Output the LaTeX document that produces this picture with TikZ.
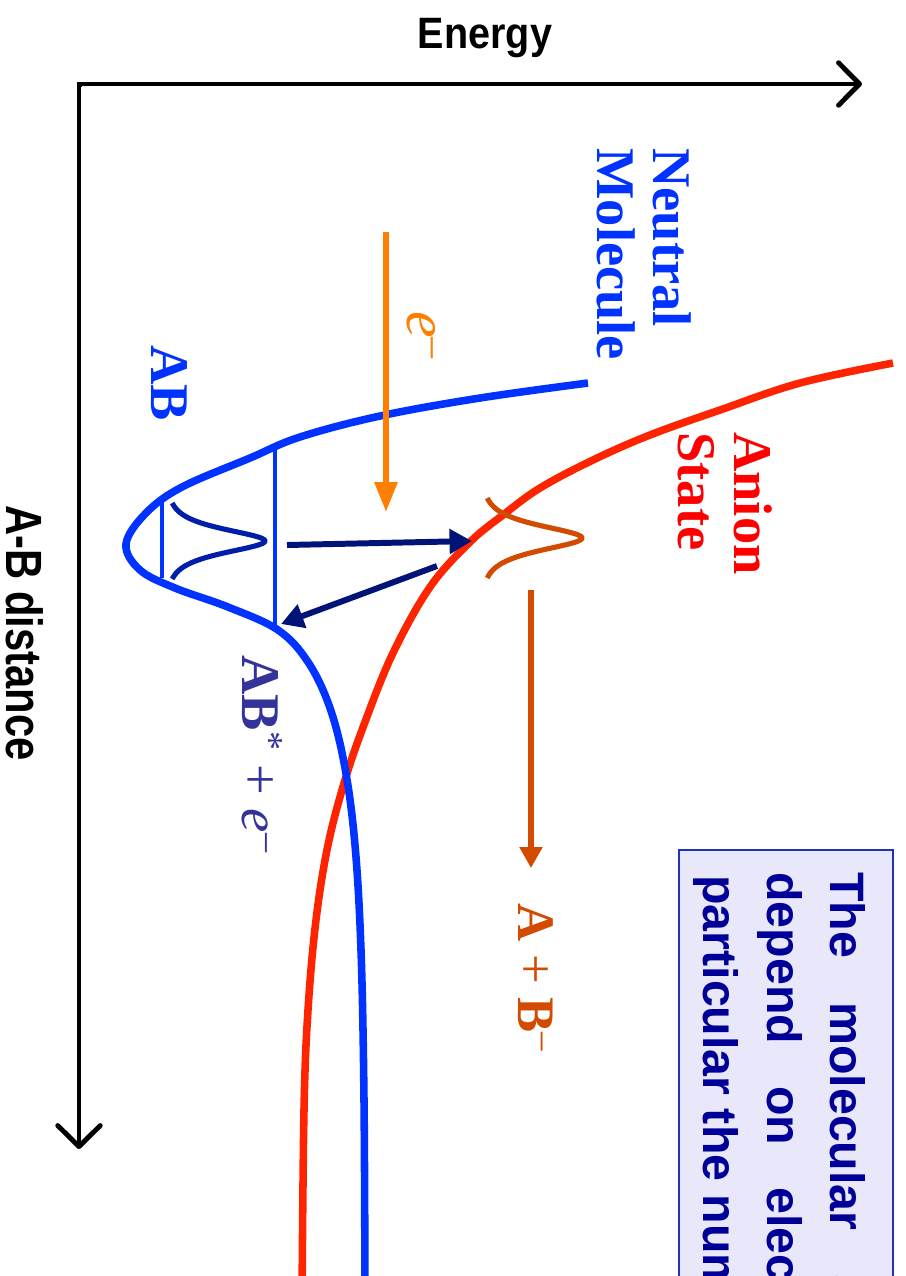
\documentclass[tikz,border=0pt]{standalone}
\usepackage{fontspec}
\setmainfont{Liberation Serif}
\setsansfont{Liberation Sans}
\usetikzlibrary{arrows.meta}
\usepackage{xcolor}
\definecolor{neutralblue}{RGB}{0,51,255}
\definecolor{anionred}{RGB}{255,36,0}
\definecolor{transnavy}{RGB}{0,20,120}
\definecolor{wavenavy}{RGB}{0,30,170}
\definecolor{attachorange}{RGB}{255,128,0}
\definecolor{dissocbrown}{RGB}{210,75,0}
\definecolor{excitedlabel}{RGB}{51,51,153}
\definecolor{notetext}{RGB}{0,0,153}
\definecolor{notefill}{RGB}{232,232,250}
\definecolor{noteframe}{RGB}{30,50,190}

\begin{document}
\begin{tikzpicture}[
      x=0.02cm, y=-0.02cm,
      every node/.style={inner sep=0pt},
      axisline/.style={line width=2.8pt,
        -{Straight Barb[length=0.42cm, width=0.85cm, line width=2.8pt, round]}},
      potential/.style={line width=4.3pt, smooth, tension=0.6},
      levelline/.style={line width=2.3pt, neutralblue},
      wavefn/.style={line width=2.9pt},
      transarr/.style={line width=3.4pt, transnavy,
        -{Triangle[length=0.45cm, width=0.48cm]}},
      dropgarr/.style={line width=3.4pt,
        -{Triangle[length=0.6cm, width=0.44cm]}},
      bigserif/.style={font=\bfseries\fontsize{31}{32}\selectfont},
      notebox/.style={draw=noteframe, line width=1.1pt, fill=notefill},
      noteline/.style={font=\sffamily\bfseries\fontsize{27.5}{33}\selectfont,
        text=notetext, rotate=-90, anchor=base west}
    ]

    % ===== Page =====
    \useasboundingbox (0,0) rectangle (906,1276);

    % ===== Axes =====
    \coordinate (origin) at (79,84);
    \coordinate (energyend) at (862,84);
    \coordinate (distend) at (79,1149);
    \draw[axisline] (origin) -- (energyend);
    \draw[axisline] (origin) -- (distend);
    \fill (76.5,81.5) rectangle (81.5,86.5);
    \node[font=\sffamily\bfseries\fontsize{25}{30}\selectfont, xscale=0.9,
      anchor=base] (energy) at (485,48) {Energy};
    \node[font=\sffamily\bfseries\fontsize{29}{34}\selectfont, rotate=-90,
      xscale=0.82, anchor=base west] (distance) at (7,505) {A-B distance};

    % ===== Information box (runs off the page) =====
    \draw[notebox] (679,850) rectangle (893,1320);
    \node[noteline] (note1) at (830,872)
      {The\hspace{0.88cm}molecular\hspace{0.88cm}states};
    \node[noteline] (note2) at (767,872)
      {depend\hspace{0.84cm}on\hspace{0.84cm}electronic};
    \node[noteline] (note3) at (703,875) {particular the number};

    % ===== Potential curves =====
    \draw[potential, anionred] plot coordinates {
      (893,363) (800,383) (720,410) (650,435) (593,460) (540,488)
      (503,515) (470,542) (430,587) (393,653) (365,722) (345,780)
      (328,845) (316,920) (308,1010) (304,1110) (302,1300)};
    \draw[potential, neutralblue] plot coordinates {
      (588,383) (480,398) (380,416) (300,437) (250,458) (182,487)
      (146,513) (126,544) (140,570) (175,588) (228,607) (278,630)
      (308,662) (330,708) (345,768) (355,845) (361,950) (364,1100)
      (365,1300)};

    % ===== Vibrational levels and wave packets =====
    \draw[levelline] (275,449) -- (275,628);
    \draw[levelline] (162,497) -- (162,578);
    \draw[wavefn, wavenavy] plot[domain=503:579, samples=80, smooth]
      ({167+98/cosh((\x-541)/10.5)}, \x);
    \draw[wavefn, dissocbrown] plot[domain=498:578, samples=80, smooth]
      ({482+100/cosh((\x-538)/11)}, \x);

    % ===== Arrows =====
    \coordinate (attachtop) at (386,232);
    \coordinate (attachtip) at (386,512);
    \coordinate (excitestart) at (287,545);
    \coordinate (excitetip) at (472,541);
    \coordinate (returnstart) at (437,566);
    \coordinate (returntip) at (281,624);
    \coordinate (dissoctop) at (531,590);
    \coordinate (dissoctip) at (531,868);
    \draw[dropgarr, attachorange] (attachtop) -- (attachtip);
    \draw[transarr] (excitestart) -- (excitetip);
    \draw[transarr] (returnstart) -- (returntip);
    \draw[dropgarr, dissocbrown, -{Triangle[length=0.42cm, width=0.44cm]}]
      (dissoctop) -- (dissoctip);

    % ===== Labels =====
    \node[bigserif, text=neutralblue, rotate=-90, align=left,
      anchor=north west] (neutral) at (692,148) {Neutral\\Molecule};
    \node[bigserif, text=red, rotate=-90, align=left,
      anchor=north west] (anion) at (773,432) {Anion\\State};
    \node[bigserif, text=neutralblue, rotate=-90, anchor=base west]
      (ablabel) at (151,345) {AB};
    \node[font=\fontsize{31}{32}\selectfont, text=excitedlabel, rotate=-90,
      anchor=base west] (excited) at (242,655)
      {\textbf{AB}\textsuperscript{*} + \textit{e}\textsuperscript{--}};
    \node[font=\fontsize{30}{32}\selectfont, text=dissocbrown, rotate=-90,
      anchor=base west] (products) at (518,903)
      {\textbf{A} + \textbf{B}\textsuperscript{--}};
    \node[font=\fontsize{34}{36}\selectfont, text=attachorange, rotate=-90,
      anchor=base west] (electron) at (407,311)
      {\textit{e}\textsuperscript{--}};
  \end{tikzpicture}
\end{document}
